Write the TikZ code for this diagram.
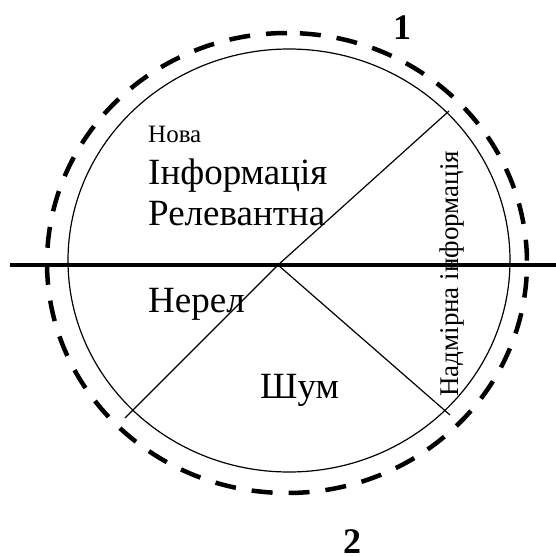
\documentclass[tikz,border=0pt]{standalone}
\usepackage{fontspec}
\setmainfont{Liberation Serif}
\begin{document}
\begin{tikzpicture}[x=1pt,y=-1pt]

% -------------------------------------------------------
% Layout parameters
% -------------------------------------------------------
\def\cx{289}      % inner circle centre
\def\cy{260.5}
\def\rx{221}      % inner circle radii
\def\ry{211.5}
\def\dx{287}      % dashed circle centre
\def\dy{263}
\def\drx{240}     % dashed circle radii
\def\dry{230}
\def\yAxis{265}   % thick horizontal line

\tikzstyle{bigtext} = [font=\fontsize{37}{41}\selectfont, inner sep=0pt];
\tikzstyle{numtext} = [font=\fontsize{36}{40}\selectfont\bfseries, inner sep=0pt];

\useasboundingbox (0,0) rectangle (556,557);

%%%%%% DRAW CIRCLES
\draw[line width=1.2pt] (\cx,\cy) ellipse [x radius=\rx pt, y radius=\ry pt];
\draw[line width=4.5pt, dash pattern=on 21pt off 16pt] (\dx,\dy-\dry) arc[start angle=90, end angle=450, x radius=\drx pt, y radius=\dry pt];

%%%%%% DRAW LINES
\coordinate (hl) at (10,\yAxis);
\coordinate (hr) at (556,\yAxis);
\coordinate (c) at (278,\yAxis);
\coordinate (ur) at (449,111);
\coordinate (ll) at (125,418);
\coordinate (lr) at (450,415);

\draw[line width=4.5pt] (hl) -- (hr);
\draw[line width=1.2pt] (ll) -- (c) -- (ur);
\draw[line width=1.2pt] (c) -- (lr);

%%%%%% LABELS
\node[font=\fontsize{25}{28}\selectfont, inner sep=0pt, anchor=base west] (nova) at (148,142) {Нова};
\node[bigtext, anchor=base west] (inform) at (148,184) {Інформація};
\node[bigtext, anchor=base west] (relev) at (148,225) {Релевантна};
\node[bigtext, anchor=base west] (nerel) at (148,312) {Нерел};
\node[bigtext, anchor=base west] (shum) at (260,398) {Шум};
\node[font=\fontsize{27}{30}\selectfont, inner sep=0pt, rotate=90, anchor=base west] (nadm) at (458,397) {Надмірна інформація};

%%% NUMBERS
\node[numtext, anchor=base west] (one) at (393,39) {1};
\node[numtext, anchor=base west] (two) at (343,553) {2};

\end{tikzpicture}
\end{document}
